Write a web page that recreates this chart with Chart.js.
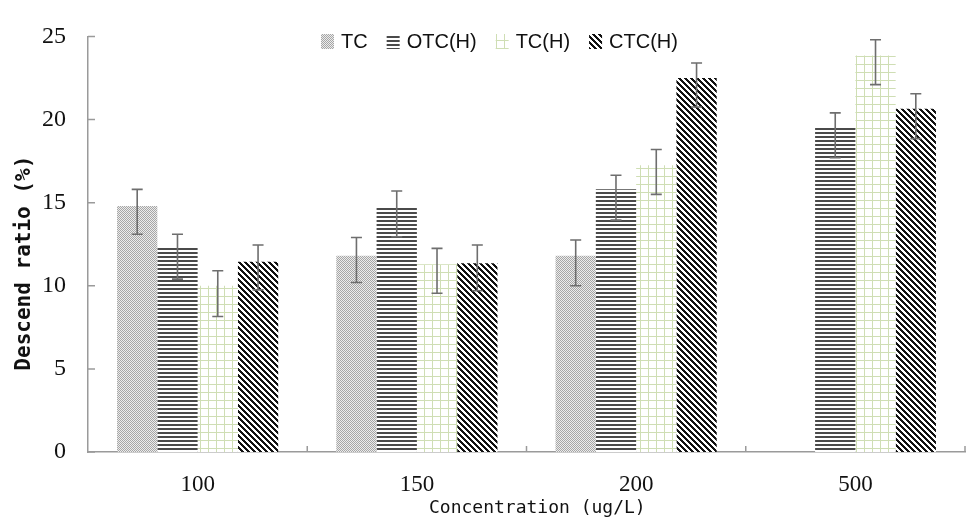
<!DOCTYPE html>
<html>
<head>
<meta charset="utf-8">
<script src="https://cdn.jsdelivr.net/npm/chart.js@4.4.0/dist/chart.umd.min.js"></script>
<style>
  html, body { margin: 0; padding: 0; background: #fff; }
</style>
</head>
<body>
<canvas id="descendChart" width="967" height="519"></canvas>
<script>
// data
const categories = ['100', '150', '200', '500'];
const seriesNames = ['TC', 'OTC(H)', 'TC(H)', 'CTC(H)'];

const tcValues  = [14.8, 11.8, 11.8, null];
const otcValues = [12.35, 14.8, 15.8, 19.5];
const tchValues = [10.0, 11.3, 17.25, 23.85];
const ctcValues = [11.45, 11.35, 22.5, 20.65];

// error bar ends: [low, high] per category
const tcErr  = [[13.1, 15.8], [10.2, 12.9], [10.0, 12.75], null];
const otcErr = [[10.4, 13.1], [12.95, 15.7], [13.95, 16.65], [17.7, 20.4]];
const tchErr = [[8.15, 10.9], [9.55, 12.25], [15.5, 18.2], [22.1, 24.8]];
const ctcErr = [[9.75, 12.45], [9.7, 12.45], [20.75, 23.4], [18.85, 21.55]];

const yTicks = [0, 5, 10, 15, 20, 25];

// fill patterns like the original black & white figure
function makePattern(size, paint) {
    const c = document.createElement('canvas');
    c.width = size; c.height = size;
    const g = c.getContext('2d');
    g.fillStyle = '#fff';
    g.fillRect(0, 0, size, size);
    paint(g);
    return document.createElement('canvas').getContext('2d').createPattern(c, 'repeat');
}

const dotPattern = makePattern(2, g => {
    g.fillStyle = '#ececec';
    g.fillRect(0, 0, 2, 2);
    g.fillStyle = '#a6a6a6';
    g.fillRect(0, 0, 1, 1);
    g.fillRect(1, 1, 1, 1);
});

const hLinePattern = makePattern(4, g => {
    g.fillStyle = '#4a4a4a';
    g.fillRect(0, 0, 4, 2);
});

const gridPattern = makePattern(8, g => {
    g.fillStyle = '#cfdeb4';
    g.fillRect(0, 0, 8, 1);
    g.fillRect(0, 0, 1, 8);
});

const diagPattern = makePattern(6, g => {
    g.fillStyle = '#111';
    for (let x = 0; x < 6; x++) {
        for (let y = 0; y < 6; y++) {
            if ((((x - y) % 6) + 6) % 6 < 3) g.fillRect(x, y, 1, 1);
        }
    }
});

const patterns = [dotPattern, hLinePattern, gridPattern, diagPattern];
const errors = [tcErr, otcErr, tchErr, ctcErr];

// error bars drawn on top of the bars
const errorBarPlugin = {
    id: 'errorBars',
    afterDatasetsDraw(chart) {
        const ctx = chart.ctx;
        const yScale = chart.scales.y;
        ctx.save();
        ctx.strokeStyle = '#6e6e6e';
        ctx.lineWidth = 1.6;
        chart.data.datasets.forEach((ds, i) => {
            const meta = chart.getDatasetMeta(i);
            meta.data.forEach((bar, j) => {
                const e = errors[i][j];
                if (!e || ds.data[j] == null) return;
                const yLo = yScale.getPixelForValue(e[0]);
                const yHi = yScale.getPixelForValue(e[1]);
                ctx.beginPath();
                ctx.moveTo(bar.x, yLo); ctx.lineTo(bar.x, yHi);
                ctx.moveTo(bar.x - 5.5, yLo); ctx.lineTo(bar.x + 5.5, yLo);
                ctx.moveTo(bar.x - 5.5, yHi); ctx.lineTo(bar.x + 5.5, yHi);
                ctx.stroke();
            });
        });
        ctx.restore();
    }
};

// inside tick marks + legend inside the plot
const decorPlugin = {
    id: 'decor',
    afterDraw(chart) {
        const ctx = chart.ctx;
        const area = chart.chartArea;
        const x = chart.scales.x, y = chart.scales.y;
        ctx.save();
        ctx.strokeStyle = '#9a9a9a';
        ctx.lineWidth = 1.5;
        ctx.beginPath();
        yTicks.forEach(v => {
            const py = y.getPixelForValue(v);
            ctx.moveTo(area.left, py); ctx.lineTo(area.left + 7, py);
        });
        const half = (x.getPixelForValue(1) - x.getPixelForValue(0)) / 2;
        for (let i = 0; i < categories.length; i++) {
            const px = x.getPixelForValue(i) + half;
            ctx.moveTo(px, area.bottom); ctx.lineTo(px, area.bottom - 6);
        }
        ctx.stroke();

        // legend
        ctx.font = '20px "Liberation Sans", sans-serif';
        ctx.textBaseline = 'middle';
        let lx = 321;
        const ly = 41;
        chart.data.datasets.forEach((ds, i) => {
            ctx.fillStyle = ds.backgroundColor;
            ctx.fillRect(lx, ly - 7, 13, 15);
            ctx.fillStyle = '#111';
            ctx.fillText(ds.label, lx + 20, ly + 1);
            lx += 20 + ctx.measureText(ds.label).width + 19;
        });
        ctx.restore();
    }
};

new Chart(document.getElementById('descendChart'), {
    type: 'bar',
    data: {
        labels: categories,
        datasets: [tcValues, otcValues, tchValues, ctcValues].map((vals, i) => ({
            label: seriesNames[i],
            data: vals,
            backgroundColor: patterns[i],
            borderWidth: 0,
            categoryPercentage: 0.735,
            barPercentage: 1.0
        }))
    },
    options: {
        responsive: false,
        animation: false,
        layout: { padding: { top: 22, right: 2, left: 0, bottom: 0 } },
        plugins: {
            legend: { display: false },
            tooltip: { enabled: false }
        },
        scales: {
            x: {
                grid: { display: false, drawTicks: false },
                border: { display: true, color: '#9a9a9a', width: 1.5 },
                ticks: {
                    color: '#111',
                    padding: 19,
                    font: { family: '"Liberation Serif", serif', size: 23 }
                },
                title: {
                    display: true,
                    text: '  Concentration (ug/L)',
                    color: '#111',
                    padding: 0,
                    font: { family: '"DejaVu Sans Mono", monospace', size: 18 }
                },
                afterFit(scale) { scale.height = 67; }
            },
            y: {
                min: 0,
                max: 25,
                grid: { display: false, drawTicks: false },
                border: { display: true, color: '#9a9a9a', width: 1.5 },
                afterBuildTicks(scale) { scale.ticks = yTicks.map(v => ({ value: v })); },
                ticks: {
                    color: '#111',
                    padding: 22,
                    font: { family: '"Liberation Serif", serif', size: 24 }
                },
                title: {
                    display: true,
                    text: 'Descend ratio (%)   ',
                    color: '#111',
                    padding: { top: 12, bottom: 0 },
                    font: { family: '"DejaVu Sans Mono", monospace', size: 21, weight: 'bold' }
                },
                afterFit(scale) { scale.width = 88; }
            }
        }
    },
    plugins: [errorBarPlugin, decorPlugin]
});
</script>
</body>
</html>
